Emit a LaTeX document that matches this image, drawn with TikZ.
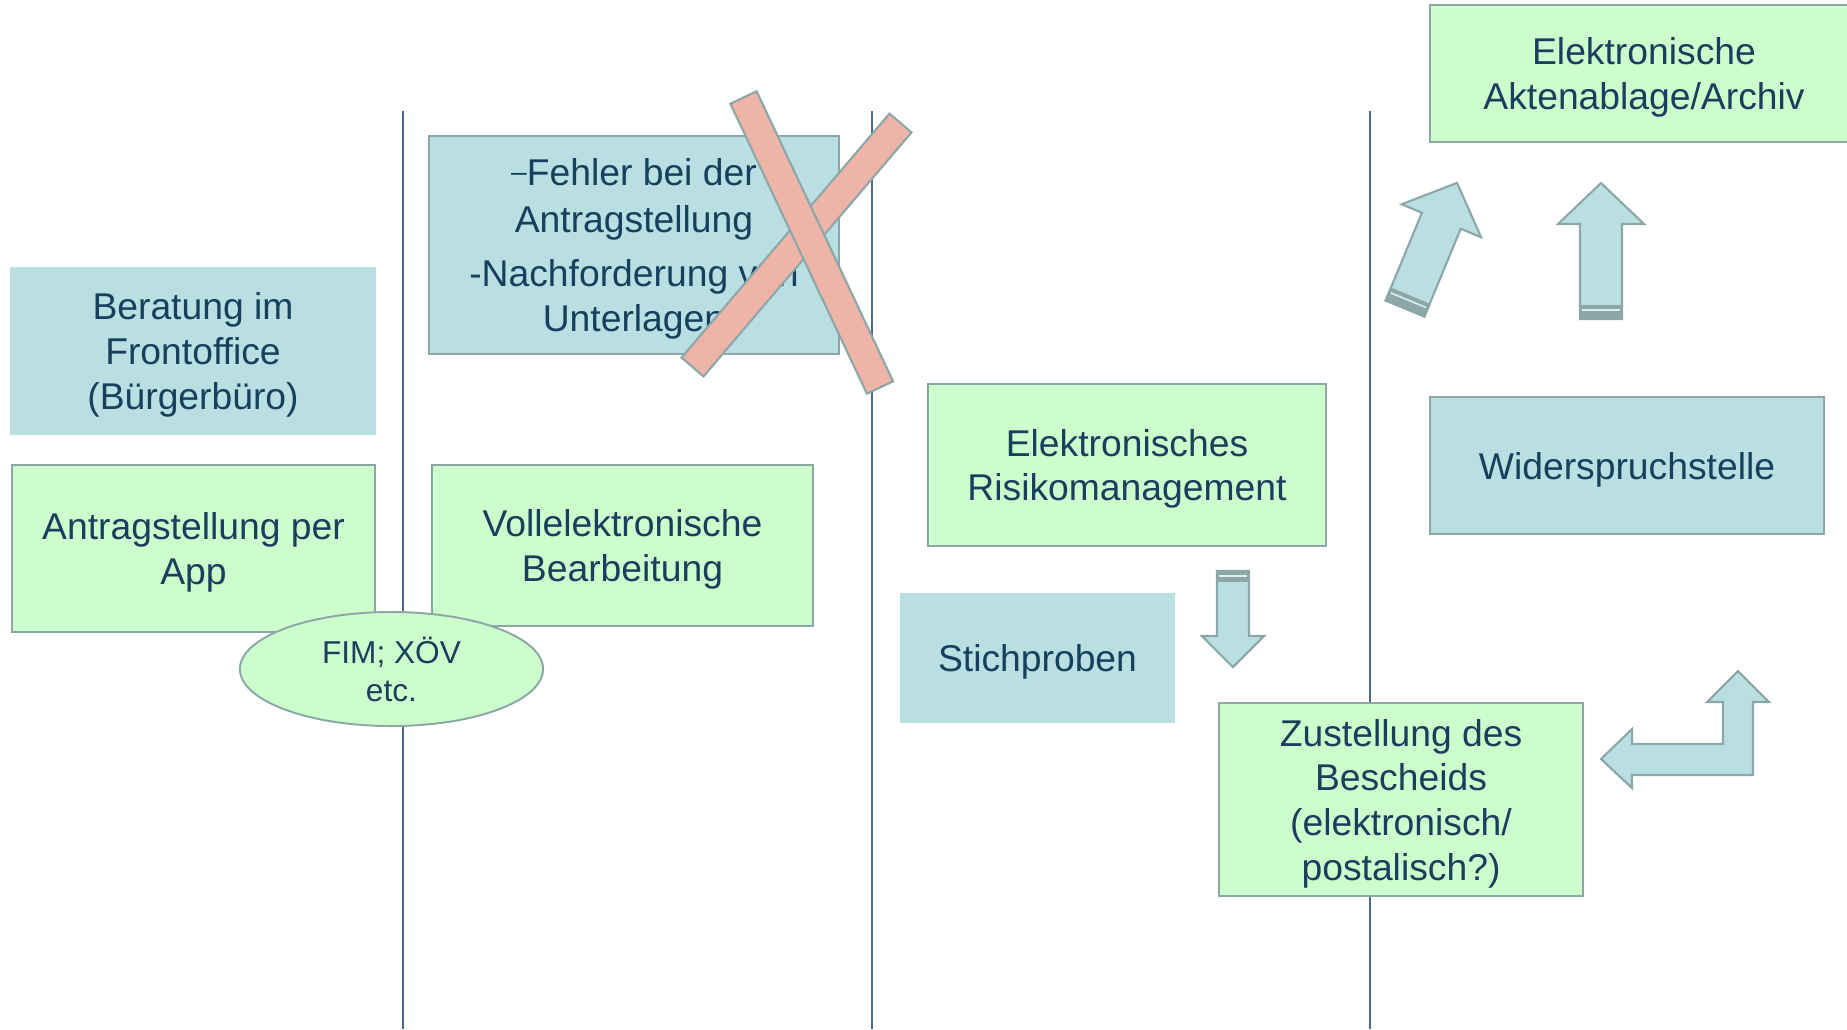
\documentclass[tikz,border=0pt]{standalone}
\usepackage{fontspec}
\setmainfont{Liberation Sans}
\usetikzlibrary{shapes.geometric}

\definecolor{boxcyan}{HTML}{B9DFE2}
\definecolor{boxgreen}{HTML}{CCFFCC}
\definecolor{rimgray}{HTML}{8DA7A9}
\definecolor{txtblue}{HTML}{17405E}
\definecolor{lanegray}{HTML}{4E6B85}
\definecolor{crosspink}{HTML}{EFB4A8}

\tikzset{
  pics/uparr/.style={code={
    \draw[blockarr] (-21,0) -- (-21,-95) -- (-43,-95) -- (0,-136) -- (43,-95) -- (21,-95) -- (21,0) -- cycle;
    \fill[rimgray] (-22,1) rectangle (22,-14);
    \draw[lightstripe] (-19,-9) -- (19,-9);
  }}
}

\begin{document}
\begin{tikzpicture}[x=0.01cm, y=-0.01cm,
    every node/.style={text=txtblue, font=\fontsize{10.6}{12.7}\selectfont, align=center, inner sep=0pt},
    boxtext/.style={text depth=-1.6pt},
    cyanbox/.style={boxtext, fill=boxcyan, draw=rimgray, line width=0.55pt},
    plaincyan/.style={boxtext, fill=boxcyan},
    greenbox/.style={boxtext, fill=boxgreen, draw=rimgray, line width=0.55pt},
    lane/.style={draw=lanegray, line width=0.45pt},
    bar/.style={fill=crosspink, draw=rimgray, line width=0.6pt},
    blockarr/.style={fill=boxcyan, draw=rimgray, line width=0.6pt},
    lightstripe/.style={draw=boxcyan!50!white, line width=0.45pt}]
  \clip (0,0) rectangle (1847,1029);

  % lanes
  \foreach \lx in {403,872,1370}
    \draw[lane] (\lx,111) -- (\lx,1029);

  % boxes
  \node[plaincyan, minimum width=3.66cm, minimum height=1.68cm] (beratung) at (193,351) {Beratung im\\Frontoffice\\(Bürgerbüro)};
  \node[greenbox, minimum width=3.63cm, minimum height=1.67cm] (app) at (193.5,548.5) {Antragstellung per\\App};
  \node[cyanbox, minimum width=4.10cm, minimum height=2.18cm] (fehler) at (634,245) {\raisebox{1.3pt}{\fontsize{8}{8}\selectfont –}Fehler bei der\\[0.7pt] Antragstellung\\[2.6pt] -Nachforderung von\\ Unterlagen};
  \node[greenbox, minimum width=3.81cm, minimum height=1.61cm] (voll) at (622.5,545.5) {Vollelektronische\\Bearbeitung};
  \node[greenbox, minimum width=3.98cm, minimum height=1.62cm] (risiko) at (1127,465) {Elektronisches\\Risikomanagement};
  \node[plaincyan, minimum width=2.75cm, minimum height=1.30cm] (stich) at (1037.5,658) {Stichproben};
  \node[greenbox, minimum width=3.64cm, minimum height=1.93cm] (zustellung) at (1401,799.5) {Zustellung des\\Bescheids\\(elektronisch/\\postalisch?)};
  \node[cyanbox, minimum width=3.94cm, minimum height=1.37cm] (widerspruch) at (1627,465.5) {Widerspruchstelle};
  \node[greenbox, minimum width=4.28cm, minimum height=1.37cm] (archiv) at (1644,73.5) {Elektronische\\Aktenablage/Archiv};
  \node[greenbox, text depth=, ellipse, minimum width=3.03cm, minimum height=1.14cm, font=\fontsize{9}{10.8}\selectfont] (fim) at (391.5,669) {FIM; XÖV\\etc.};

  % cross over the first lane box
  \draw[bar] (681.5,357.6) -- (703.5,376.4) -- (911.5,132.4) -- (889.5,113.6) -- cycle;
  \draw[bar] (730.4,103.7) -- (756.6,91.3) -- (893.1,381.3) -- (866.9,393.7) -- cycle;

  % block arrows
  \pic[rotate=-22.5] at (1405,308.5) {uparr};
  \pic at (1601,319) {uparr};

  \draw[blockarr] (1217,571) -- (1217,636) -- (1202,636) -- (1233,667) -- (1264,636) -- (1249,636) -- (1249,571) -- cycle;
  \fill[rimgray] (1216,570) rectangle (1250,582);
  \draw[lightstripe] (1219,576) -- (1247,576);

  \draw[blockarr] (1738,671) -- (1769,702) -- (1753,702) -- (1753,775) -- (1632,775) -- (1632,788)
    -- (1601,759) -- (1632,729) -- (1632,744) -- (1723,744) -- (1723,702) -- (1707,702) -- cycle;
\end{tikzpicture}
\end{document}
